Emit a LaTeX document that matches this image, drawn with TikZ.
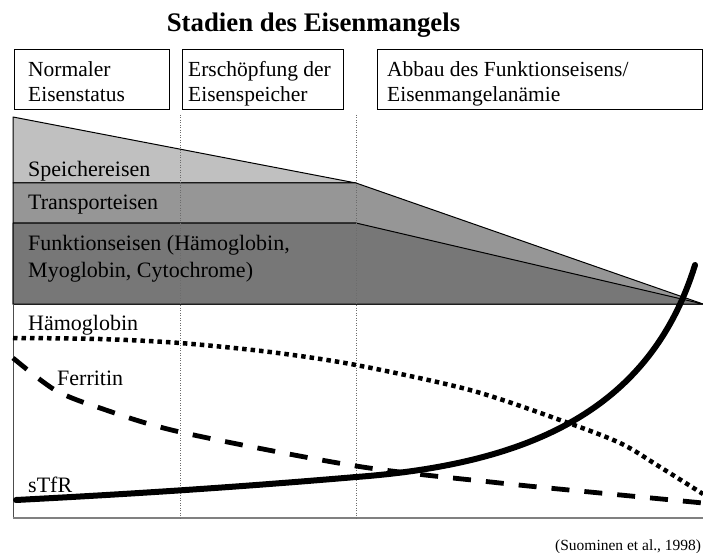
\documentclass[tikz,border=0pt]{standalone}
\usepackage{fontspec}
\setmainfont{Liberation Serif}
\begin{document}
\begin{tikzpicture}[x=1pt,y=-1pt,
  boxtxt/.style={anchor=base west,inner sep=0pt,font=\fontsize{21.5}{25}\selectfont},
  lbl/.style={anchor=base west,inner sep=0pt,font=\fontsize{22}{26}\selectfont},
  stagebox/.style={draw=black,line width=0.9pt,anchor=north west,inner sep=0pt},
  area/.style={draw=black,line width=1pt,line join=round},
  sep/.style={draw=gray!85!black,line width=0.7pt,dash pattern=on 1pt off 1.5pt},
  hbline/.style={line width=4.5pt,dash pattern=on 4.5pt off 4pt},
  ferline/.style={line width=4.8pt,dash pattern=on 18pt off 15pt},
  tfrline/.style={line width=6pt,line cap=round}
]
\useasboundingbox (0,0) rectangle (703,553);
\clip (0,0) rectangle (703,553);
\definecolor{speicher}{HTML}{C0C0C0}
\definecolor{transport}{HTML}{969696}
\definecolor{funktion}{HTML}{777777}

% title
\node[anchor=base,inner sep=0pt,font=\fontsize{26.8}{30}\selectfont\bfseries] (title) at (313.5,32) {Stadien des Eisenmangels};

% stage boxes
\node[stagebox,minimum width=155pt,minimum height=60pt] (b1) at (14,49) {};
\node[stagebox,minimum width=161pt,minimum height=60pt] (b2) at (182,49) {};
\node[stagebox,minimum width=325pt,minimum height=60pt] (b3) at (377,49) {};
\node[boxtxt] (b1a) at (28,77) {Normaler};
\node[boxtxt] (b1b) at (28,102) {Eisenstatus};
\node[boxtxt] (b2a) at (188,77) {Erschöpfung der};
\node[boxtxt] (b2b) at (188,102) {Eisenspeicher};
\node[boxtxt] (b3a) at (387,77) {Abbau des Funktionseisens/};
\node[boxtxt] (b3b) at (387,102) {Eisenmangelanämie};

% iron compartments
\filldraw[area,fill=speicher] (13,117) -- (356,183) -- (13,183) -- cycle;
\filldraw[area,fill=transport] (13,183) -- (356,183) -- (703,304) -- (13,304) -- cycle;
\filldraw[area,fill=funktion] (13,223) -- (356,223) -- (703,304) -- (13,304) -- cycle;

% frame of the lower chart
\draw[gray!60!black,line width=0.9pt] (13,304) -- (13,518);
\draw[gray,line width=2pt] (12.5,518) -- (703,518);

% stage separators
\draw[sep] (180,115) -- (180,518);
\draw[sep] (356,115) -- (356,518);

% labels of compartments
\node[lbl] (sp) at (28,177) {Speichereisen};
\node[lbl] (tr) at (28,210) {Transporteisen};
\node[lbl] (fu1) at (28,250) {Funktionseisen (Hämoglobin,};
\node[lbl] (fu2) at (28,277) {Myoglobin, Cytochrome)};

% curves
\draw[hbline] plot[smooth,tension=0.5] coordinates {(13,338) (100,339) (180,343) (270,352) (356,365) (470,390) (560,420) (620,443) (660,467) (703,494)};
\draw[ferline] plot[smooth,tension=0.5] coordinates {(13,358) (55,390) (100,408) (180,432) (356,466) (500,483) (600,493) (703,503)};
\draw[tfrline] (16,500) .. controls (150,493) and (250,486) .. (356,477)
  .. controls (530,464) and (650,410) .. (695,265);

% curve labels
\node[lbl] (hb) at (28,330) {Hämoglobin};
\node[lbl] (fe) at (57,385) {Ferritin};
\node[lbl] (tf) at (28,492) {sTfR};

% source
\node[anchor=base west,inner sep=0pt,font=\fontsize{15.5}{18}\selectfont] (src) at (555,550) {(Suominen et al., 1998)};
\end{tikzpicture}
\end{document}
